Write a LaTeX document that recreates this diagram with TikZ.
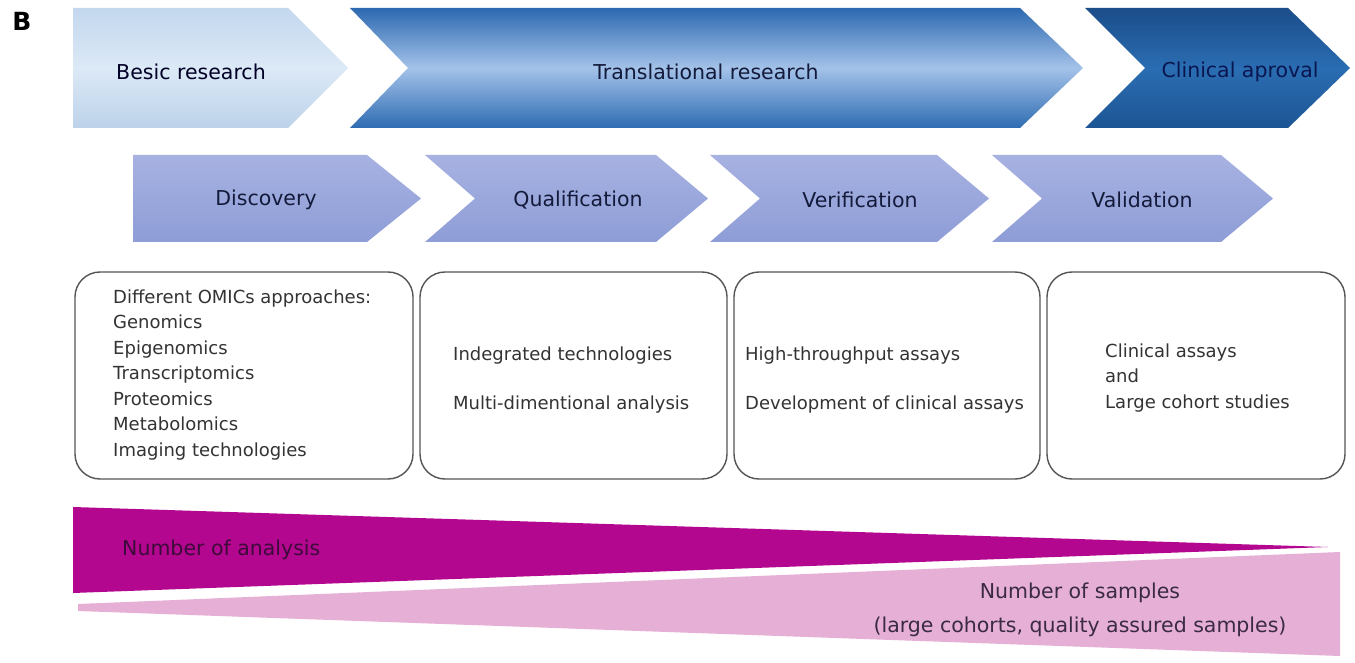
\documentclass[tikz,border=0pt]{standalone}
\usepackage{fontspec}
\setmainfont{DejaVu Sans}
\definecolor{besA}{HTML}{C3D7EE}
\definecolor{besB}{HTML}{DCE9F6}
\definecolor{besC}{HTML}{BCD2EA}
\definecolor{trA}{HTML}{2C69B0}
\definecolor{trB}{HTML}{A4C2E9}
\definecolor{trC}{HTML}{2E6CB2}
\definecolor{clA}{HTML}{1B4D89}
\definecolor{clB}{HTML}{2A6DB2}
\definecolor{clC}{HTML}{1D5594}
\definecolor{stA}{HTML}{A7B2E1}
\definecolor{stB}{HTML}{8E9DD7}
\definecolor{txtdark}{HTML}{141A3A}
\definecolor{navy}{HTML}{0A1650}
\definecolor{boxline}{HTML}{555555}
\definecolor{boxtxt}{HTML}{333333}
\definecolor{magdark}{HTML}{B3078F}
\definecolor{maglight}{HTML}{E6AFD6}
\definecolor{magtxt}{HTML}{3D0A3A}
\definecolor{pinktxt}{HTML}{3A2A45}
\tikzset{
  bigtxt/.style={font=\fontsize{20.5}{24}\selectfont, inner sep=0pt, text=txtdark},
  boxtext/.style={font=\fontsize{18}{25.5}\selectfont, inner sep=0pt, text=boxtxt, align=left, anchor=west},
  roundbox/.style={draw=boxline, line width=1.4pt, rounded corners=25pt, fill=white},
  stepshade/.style={top color=stA, bottom color=stB},
  wedgetxt/.style={font=\fontsize{20.5}{34}\selectfont, inner sep=0pt}
}
\begin{document}
\begin{tikzpicture}[x=1pt,y=-1pt]
\useasboundingbox (0,0) rectangle (1355,663);
\fill[white] (0,0) rectangle (1355,663);

% panel label
\node[font=\fontsize{25}{28}\bfseries\selectfont, inner sep=0pt] (lblB) at (22,21) {B};

% top row
\shade[top color=besA, bottom color=besC, middle color=besB]
  (73,8) -- (288,8) -- (348,68) -- (288,128) -- (73,128) -- cycle;
\shade[top color=trA, bottom color=trC, middle color=trB]
  (350,8) -- (1020,8) -- (1083,68) -- (1020,128) -- (350,128) -- (408,68) -- cycle;
\shade[top color=clA, bottom color=clC, middle color=clB]
  (1085,8) -- (1288,8) -- (1350,68) -- (1288,128) -- (1085,128) -- (1145,68) -- cycle;
\node[bigtxt, text=black!85!blue] (besic) at (191,72) {Besic research};
\node[bigtxt] (trans) at (706,72) {Translational research};
\node[bigtxt, text=navy] (clin) at (1240,72) {Clinical aproval};

% second row
\shade[stepshade] (133,155) -- (367,155) -- (421,198.5) -- (367,242) -- (133,242) -- cycle;
\shade[stepshade] (425,155) -- (656,155) -- (708,198.5) -- (656,242) -- (425,242) -- (475,198.5) -- cycle;
\shade[stepshade] (710,155) -- (937,155) -- (989,198.5) -- (937,242) -- (710,242) -- (760,198.5) -- cycle;
\shade[stepshade] (992,155) -- (1221,155) -- (1273,198.5) -- (1221,242) -- (992,242) -- (1042,198.5) -- cycle;
\node[bigtxt] (disc) at (266,200) {Discovery};
\node[bigtxt] (qual) at (578,200) {Qualification};
\node[bigtxt] (veri) at (860,200) {Verification};
\node[bigtxt] (vali) at (1142,200) {Validation};

% boxes
\draw[roundbox] (75,272) rectangle (413,479);
\draw[roundbox] (420,272) rectangle (727,479);
\draw[roundbox] (734,272) rectangle (1040,479);
\draw[roundbox] (1047,272) rectangle (1345,479);
\node[boxtext] (omics) at (113,375) {Different OMICs approaches:\\Genomics\\Epigenomics\\Transcriptomics\\Proteomics\\Metabolomics\\Imaging technologies};
\node[boxtext] (integ) at (453,380) {Indegrated technologies\\[24pt]Multi-dimentional analysis};
\node[boxtext] (htp) at (745,380) {High-throughput assays\\[24pt]Development of clinical assays};
\node[boxtext] (clinass) at (1105,378) {Clinical assays\\and\\Large cohort studies};

% bottom wedges
\fill[magdark] (73,507) -- (1328,547) -- (73,593) -- cycle;
\fill[maglight] (78,604) -- (1340,552) -- (1340,656) -- (78,611) -- cycle;
\node[wedgetxt, text=magtxt, anchor=west] (nanal) at (122,550) {Number of analysis};
\node[wedgetxt, text=pinktxt, align=center] (nsamp) at (1080,610) {Number of samples\\(large cohorts, quality assured samples)};
\end{tikzpicture}
\end{document}
